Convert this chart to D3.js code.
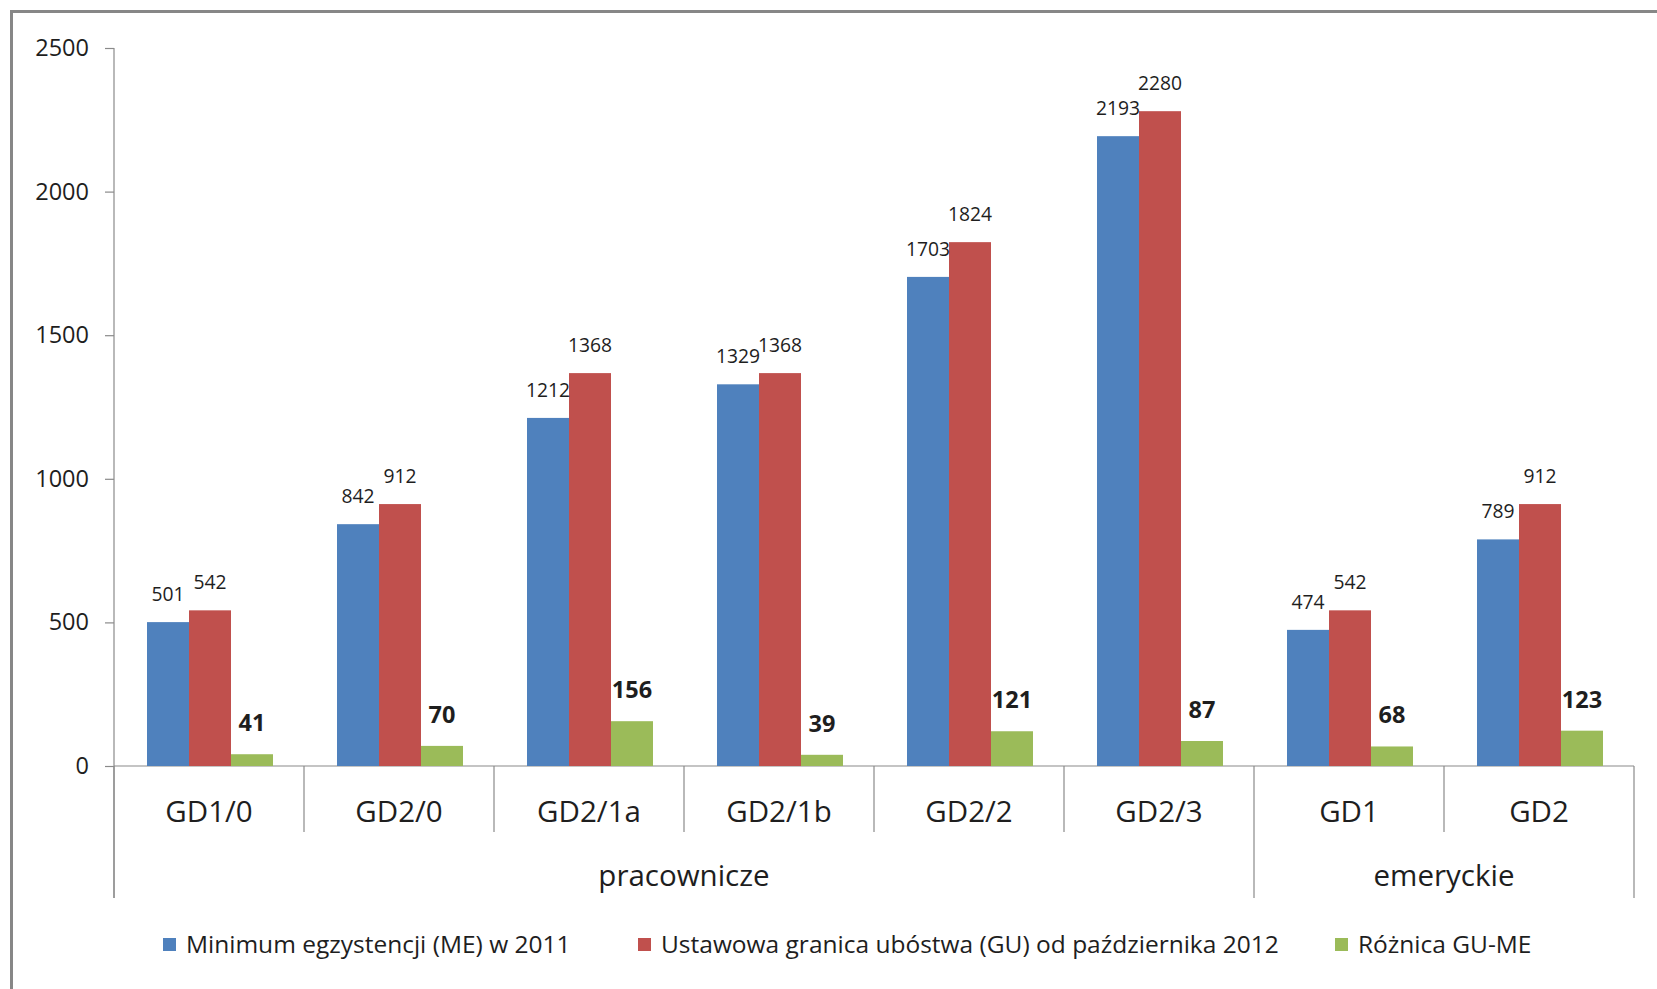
<!DOCTYPE html>
<html>
<head>
<meta charset="utf-8">
<script src="https://cdn.jsdelivr.net/npm/d3@7"></script>
<style>
  html, body { margin: 0; padding: 0; background: #fff; }
  svg { display: block; }
  text { font-family: "Open Sans", "Noto Sans", sans-serif; fill: #1e1e1e; }
</style>
</head>
<body>
<svg id="chart" width="1657" height="989"></svg>
<script>
const categories = ["GD1/0", "GD2/0", "GD2/1a", "GD2/1b", "GD2/2", "GD2/3", "GD1", "GD2"];
const categoryGroups = ["pracownicze", "pracownicze", "pracownicze", "pracownicze", "pracownicze", "pracownicze", "emeryckie", "emeryckie"];
const groupNames = ["pracownicze", "emeryckie"];
const seriesNames = ["Minimum egzystencji (ME) w 2011", "Ustawowa granica ubóstwa (GU) od października 2012", "Różnica GU-ME"];
const seriesME = [501, 842, 1212, 1329, 1703, 2193, 474, 789];
const seriesGU = [542, 912, 1368, 1368, 1824, 2280, 542, 912];
const seriesDiff = [41, 70, 156, 39, 121, 87, 68, 123];
const yTicks = [0, 500, 1000, 1500, 2000, 2500];
const colors = ["#4F81BD", "#C0504D", "#9BBB59"];

const seriesValues = [seriesME, seriesGU, seriesDiff];

const svg = d3.select("#chart");
const axisColor = "#8a8a8a";

// outer frame
svg.append("rect")
  .attr("x", 11.5).attr("y", 11.5)
  .attr("width", 1700).attr("height", 1100)
  .attr("fill", "none").attr("stroke", "#878787").attr("stroke-width", 3);

const plotLeft = 114, plotRight = 1634, plotTop = 48, plotBottom = 766;
const level1Bottom = 832, level2Bottom = 898;

const y = d3.scaleLinear().domain([0, 2500]).range([plotBottom, plotTop]);
const x = d3.scaleBand().domain(categories).range([plotLeft, plotRight]).padding(0);
const bw = x.bandwidth();
const x1 = d3.scaleBand().domain(d3.range(seriesNames.length)).range([bw * 0.1737, bw * 0.8368]).padding(0);

// y axis
const yAxis = d3.axisLeft(y).tickValues(yTicks).tickFormat(d3.format("d"))
  .tickSize(9).tickSizeOuter(0).tickPadding(16);
const gy = svg.append("g").attr("transform", `translate(${plotLeft},0)`).call(yAxis);
gy.select(".domain").remove();
gy.selectAll(".tick line").attr("stroke", axisColor).attr("stroke-width", 1.2);
gy.selectAll(".tick text")
  .style("font-family", '"Open Sans", sans-serif')
  .attr("font-size", 23.5).attr("fill", "#1e1e1e");

// vertical axis line extended down through category levels
svg.append("line")
  .attr("x1", plotLeft).attr("x2", plotLeft)
  .attr("y1", y(2500)).attr("y2", level2Bottom)
  .attr("stroke", axisColor).attr("stroke-width", 1.2);

// horizontal axis line
svg.append("line")
  .attr("x1", plotLeft).attr("x2", plotRight)
  .attr("y1", y(0)).attr("y2", y(0))
  .attr("stroke", axisColor).attr("stroke-width", 1.2);

// bars
const barsG = svg.append("g");
seriesValues.forEach((vals, si) => {
  barsG.selectAll(null)
    .data(categories.map((c, i) => ({c, v: vals[i]})))
    .enter().append("rect")
    .attr("x", d => x(d.c) + x1(si))
    .attr("y", d => y(d.v))
    .attr("width", x1.bandwidth())
    .attr("height", d => y(0) - y(d.v))
    .attr("fill", colors[si]);
});

// value labels
seriesValues.forEach((vals, si) => {
  const bold = si === 2;
  svg.append("g").selectAll("text")
    .data(categories.map((c, i) => ({c, v: vals[i]})))
    .enter().append("text")
    .attr("x", d => x(d.c) + x1(si) + x1.bandwidth() / 2)
    .attr("y", d => y(d.v) - (bold ? 23 : 21))
    .attr("text-anchor", "middle")
    .attr("font-size", bold ? 23.5 : 19.3)
    .attr("font-weight", bold ? 700 : 400)
    .attr("fill", bold ? "#000" : "#1e1e1e")
    .text(d => d.v);
});

// category separators
const boundaries = categories.map((c, i) => ({
  x: x(c),
  groupStart: i === 0 || categoryGroups[i] !== categoryGroups[i - 1]
}));
boundaries.push({x: x(categories[categories.length - 1]) + bw, groupStart: true});
svg.append("g").selectAll("line")
  .data(boundaries)
  .enter().append("line")
  .attr("x1", d => d.x).attr("x2", d => d.x)
  .attr("y1", y(0)).attr("y2", d => d.groupStart ? level2Bottom : level1Bottom)
  .attr("stroke", axisColor).attr("stroke-width", 1.2);

// category labels
svg.append("g").selectAll("text")
  .data(categories)
  .enter().append("text")
  .attr("x", d => x(d) + bw / 2)
  .attr("y", 822)
  .attr("text-anchor", "middle")
  .attr("font-size", 29.5)
  .text(d => d);

// group labels
svg.append("g").selectAll("text")
  .data(groupNames)
  .enter().append("text")
  .attr("x", g => {
    const cats = categories.filter((c, i) => categoryGroups[i] === g);
    return (x(cats[0]) + x(cats[cats.length - 1]) + bw) / 2;
  })
  .attr("y", 886)
  .attr("text-anchor", "middle")
  .attr("font-size", 29.5)
  .text(g => g);

// legend
const legendX = [163, 638, 1335];
const legend = svg.append("g").selectAll("g")
  .data(seriesNames)
  .enter().append("g")
  .attr("transform", (d, i) => `translate(${legendX[i]},0)`);
legend.append("rect")
  .attr("x", 0).attr("y", 938).attr("width", 13).attr("height", 13)
  .attr("fill", (d, i) => colors[i]);
legend.append("text")
  .attr("x", 23).attr("y", 953)
  .attr("font-size", 24.5)
  .text(d => d);
</script>
</body>
</html>
